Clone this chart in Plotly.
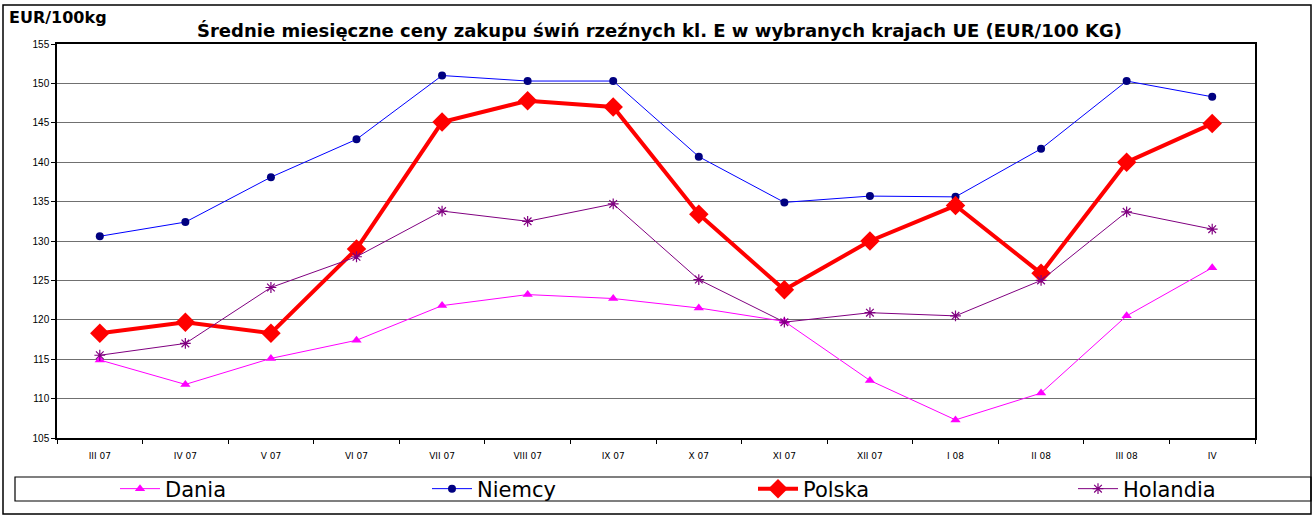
import plotly.graph_objects as go

categories = ["III 07", "IV 07", "V 07", "VI 07", "VII 07", "VIII 07", "IX 07",
              "X 07", "XI 07", "XII 07", "I 08", "II 08", "III 08", "IV"]
dania = [114.9, 111.8, 115.1, 117.4, 121.8, 123.2, 122.7, 121.5, 119.8, 112.3, 107.3, 110.7, 120.5, 126.6]
niemcy = [130.6, 132.4, 138.1, 142.9, 151.0, 150.3, 150.3, 140.7, 134.9, 135.7, 135.6, 141.7, 150.3, 148.3]
polska = [118.3, 119.7, 118.3, 129.0, 145.1, 147.8, 147.0, 133.4, 123.8, 130.0, 134.5, 125.9, 140.0, 144.9]
holandia = [115.5, 117.0, 124.1, 128.0, 133.8, 132.5, 134.7, 125.1, 119.7, 120.9, 120.5, 125.0, 133.7, 131.5]
y_ticks = [105, 110, 115, 120, 125, 130, 135, 140, 145, 150, 155]

W, H = 1315, 518
L, R, T, B = 57, 1255, 44, 438

def px_x(p):
    return (p - L) / (R - L)

def px_y(p):
    return (B - p) / (B - T)

FONT = "Liberation Sans, Arial, sans-serif"
WIDE = "DejaVu Sans, sans-serif"

fig = go.Figure()
fig.add_trace(go.Scatter(x=categories, y=dania, name="Dania", mode="lines+markers",
                         line=dict(color="#FF00FF", width=1), legend="legend",
                         marker=dict(symbol="triangle-up", size=9, color="#FF00FF")))
fig.add_trace(go.Scatter(x=categories, y=niemcy, name="Niemcy", mode="lines+markers",
                         line=dict(color="#0000FF", width=1), legend="legend2",
                         marker=dict(symbol="circle", size=8, color="#000080")))
fig.add_trace(go.Scatter(x=categories, y=polska, name="Polska", mode="lines+markers",
                         line=dict(color="#FF0000", width=4), legend="legend3",
                         marker=dict(symbol="diamond", size=15, color="#FF0000")))
fig.add_trace(go.Scatter(x=categories, y=holandia, name="Holandia", mode="lines+markers",
                         line=dict(color="#800080", width=1), legend="legend4",
                         marker=dict(symbol="asterisk-open", size=9,
                                     line=dict(color="#800080", width=1.2))))

def leg(xpx):
    return dict(orientation="h", x=px_x(xpx), y=px_y(489), xanchor="left", yanchor="middle",
                font=dict(size=21, family=WIDE, color="black"),
                bgcolor="rgba(0,0,0,0)", borderwidth=0, itemwidth=40)

fig.update_layout(
    width=W, height=H,
    margin=dict(l=L, r=W - R, t=T, b=H - B, pad=0, autoexpand=False),
    paper_bgcolor="white", plot_bgcolor="white",
    font=dict(family=FONT, color="black"),
    showlegend=True,
    legend=leg(115),
    legend2=leg(427),
    legend3=leg(753),
    legend4=leg(1073),
    xaxis=dict(type="category", range=[-0.5, 13.5], showgrid=False,
               showline=True, linecolor="black", linewidth=1.5, mirror=True,
               ticks="outside", ticklen=4, tickcolor="black", tickson="boundaries",
               tickfont=dict(size=9, family=WIDE, color="black"), ticklabelstandoff=8),
    yaxis=dict(range=[105, 155], tickvals=y_ticks, showgrid=True, gridcolor="#707070",
               gridwidth=1, zeroline=False,
               showline=True, linecolor="black", linewidth=1.5, mirror=True,
               ticks="outside", ticklen=4, tickcolor="black",
               tickfont=dict(size=10, family=FONT, color="black")),
    shapes=[
        dict(type="rect", xref="paper", yref="paper",
             x0=px_x(3), x1=px_x(1311), y0=px_y(514), y1=px_y(5),
             line=dict(color="black", width=1.5), fillcolor="rgba(0,0,0,0)", layer="below"),
        dict(type="rect", xref="paper", yref="paper",
             x0=px_x(15), x1=px_x(1311), y0=px_y(501), y1=px_y(477),
             line=dict(color="black", width=1.2), fillcolor="rgba(0,0,0,0)", layer="below"),
    ],
    annotations=[
        dict(text="<b>Średnie miesięczne ceny zakupu świń rzeźnych kl. E w wybranych krajach UE (EUR/100 KG)</b>",
             xref="paper", yref="paper", x=px_x(659), y=px_y(30), xanchor="center", yanchor="middle",
             showarrow=False, font=dict(size=18, family=WIDE, color="black")),
        dict(text="<b>EUR/100kg</b>", xref="paper", yref="paper", x=px_x(7), y=px_y(17),
             xanchor="left", yanchor="middle", showarrow=False,
             font=dict(size=16, family=WIDE, color="black")),
    ],
)

fig.write_html("out.html", config={"displayModeBar": False},
               post_script="document.body.style.margin='0px'; document.body.style.overflow='hidden';")
